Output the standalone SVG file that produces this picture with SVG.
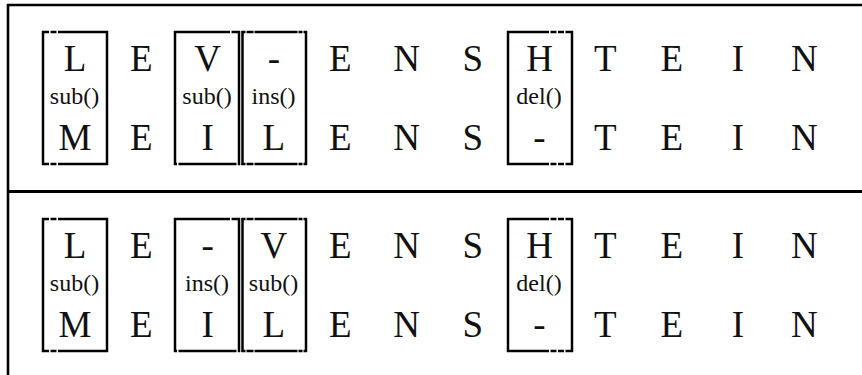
<svg xmlns="http://www.w3.org/2000/svg" width="862" height="375" viewBox="0 0 862 375">
<style>
.frame{stroke:#000;stroke-width:2.6;fill:none}
.side{stroke:#000;stroke-width:2.5;fill:none}
.big{font-family:"Liberation Serif","DejaVu Serif",serif;font-size:37px;text-anchor:middle;fill:#111}
.lab{font-family:"Liberation Serif","DejaVu Serif",serif;font-size:24px;text-anchor:middle;fill:#111}
</style>
<g id="frame">
<line class="frame" x1="7" y1="5" x2="862" y2="5"/>
<line class="frame" x1="8" y1="4" x2="8" y2="375"/>
<line class="frame" x1="8" y1="191.5" x2="862" y2="191.5" style="stroke-width:3"/>
</g>
<g id="panel-top">
<g id="top-box-L">
<line class="side" x1="43" y1="31" x2="43" y2="165"/><line class="side" x1="107" y1="31" x2="107" y2="165"/>
<line class="side" x1="42" y1="32" x2="108" y2="32" stroke-dasharray="7 1.5 6 1.5 60"/>
<line class="side" x1="42" y1="164" x2="108" y2="164" stroke-dasharray="7 1.5 6 1.5 60"/>
</g>
<g id="top-box-V">
<line class="side" x1="175" y1="31" x2="175" y2="165"/><line class="side" x1="239" y1="31" x2="239" y2="165"/>
<line class="side" x1="174" y1="32" x2="240" y2="32" stroke-dasharray="56 1.5 10"/>
<line class="side" x1="174" y1="164" x2="240" y2="164" stroke-dasharray="3 1.5 58 1.5 3"/>
</g>
<g id="top-box-ins">
<line class="side" x1="242.5" y1="31" x2="242.5" y2="165"/><line class="side" x1="306" y1="31" x2="306" y2="165"/>
<line class="side" x1="241.5" y1="32" x2="307" y2="32" stroke-dasharray="4 1 7 1 43 1 4 1 4"/>
<line class="side" x1="241.5" y1="164" x2="307" y2="164" stroke-dasharray="4 1 7 1 43 1 4 1 4"/>
</g>
<g id="top-box-H">
<line class="side" x1="508" y1="31" x2="508" y2="165"/><line class="side" x1="572" y1="31" x2="572" y2="165"/>
<line class="side" x1="507" y1="32" x2="573" y2="32" stroke-dasharray="42 1.5 6 1.5 6 1.5 8"/>
<line class="side" x1="507" y1="164" x2="573" y2="164" stroke-dasharray="42 1.5 6 1.5 6 1.5 8"/>
</g>
<g id="top-row1">
<text class="big" x="75" y="71">L</text><text class="big" x="141.3" y="71">E</text><text class="big" x="207.6" y="71">V</text><text class="big" x="273.9" y="71">-</text><text class="big" x="340.2" y="71">E</text><text class="big" x="406.5" y="71">N</text><text class="big" x="472.8" y="71">S</text><text class="big" x="539.5" y="71">H</text><text class="big" x="605.4" y="71">T</text><text class="big" x="671.7" y="71">E</text><text class="big" x="738" y="71">I</text><text class="big" x="804.3" y="71">N</text>
</g>
<g id="top-labels">
<text class="lab" x="74.5" y="104">sub()</text>
<text class="lab" x="207" y="104">sub()</text>
<text class="lab" x="273.5" y="104">ins()</text>
<text class="lab" x="539" y="104">del()</text>
</g>
<g id="top-row2">
<text class="big" x="75" y="150">M</text><text class="big" x="141.3" y="150">E</text><text class="big" x="207.6" y="150">I</text><text class="big" x="273.9" y="150">L</text><text class="big" x="340.2" y="150">E</text><text class="big" x="406.5" y="150">N</text><text class="big" x="472.8" y="150">S</text><text class="big" x="539.5" y="150">-</text><text class="big" x="605.4" y="150">T</text><text class="big" x="671.7" y="150">E</text><text class="big" x="738" y="150">I</text><text class="big" x="804.3" y="150">N</text>
</g>
</g>
<g id="panel-bottom" transform="translate(0,187)">
<g id="bot-box-L">
<line class="side" x1="43" y1="31" x2="43" y2="165"/><line class="side" x1="107" y1="31" x2="107" y2="165"/>
<line class="side" x1="42" y1="32" x2="108" y2="32" stroke-dasharray="7 1.5 6 1.5 60"/>
<line class="side" x1="42" y1="164" x2="108" y2="164" stroke-dasharray="7 1.5 6 1.5 60"/>
</g>
<g id="bot-box-ins">
<line class="side" x1="175" y1="31" x2="175" y2="165"/><line class="side" x1="239" y1="31" x2="239" y2="165"/>
<line class="side" x1="174" y1="32" x2="240" y2="32" stroke-dasharray="56 1.5 10"/>
<line class="side" x1="174" y1="164" x2="240" y2="164" stroke-dasharray="3 1.5 58 1.5 3"/>
</g>
<g id="bot-box-V">
<line class="side" x1="242.5" y1="31" x2="242.5" y2="165"/><line class="side" x1="306" y1="31" x2="306" y2="165"/>
<line class="side" x1="241.5" y1="32" x2="307" y2="32" stroke-dasharray="4 1 7 1 43 1 4 1 4"/>
<line class="side" x1="241.5" y1="164" x2="307" y2="164" stroke-dasharray="4 1 7 1 43 1 4 1 4"/>
</g>
<g id="bot-box-H">
<line class="side" x1="508" y1="31" x2="508" y2="165"/><line class="side" x1="572" y1="31" x2="572" y2="165"/>
<line class="side" x1="507" y1="32" x2="573" y2="32" stroke-dasharray="42 1.5 6 1.5 6 1.5 8"/>
<line class="side" x1="507" y1="164" x2="573" y2="164" stroke-dasharray="42 1.5 6 1.5 6 1.5 8"/>
</g>
<g id="bot-row1">
<text class="big" x="75" y="71">L</text><text class="big" x="141.3" y="71">E</text><text class="big" x="207.6" y="71">-</text><text class="big" x="273.9" y="71">V</text><text class="big" x="340.2" y="71">E</text><text class="big" x="406.5" y="71">N</text><text class="big" x="472.8" y="71">S</text><text class="big" x="539.5" y="71">H</text><text class="big" x="605.4" y="71">T</text><text class="big" x="671.7" y="71">E</text><text class="big" x="738" y="71">I</text><text class="big" x="804.3" y="71">N</text>
</g>
<g id="bot-labels">
<text class="lab" x="74.5" y="104">sub()</text>
<text class="lab" x="207" y="104">ins()</text>
<text class="lab" x="273.5" y="104">sub()</text>
<text class="lab" x="539" y="104">del()</text>
</g>
<g id="bot-row2">
<text class="big" x="75" y="150">M</text><text class="big" x="141.3" y="150">E</text><text class="big" x="207.6" y="150">I</text><text class="big" x="273.9" y="150">L</text><text class="big" x="340.2" y="150">E</text><text class="big" x="406.5" y="150">N</text><text class="big" x="472.8" y="150">S</text><text class="big" x="539.5" y="150">-</text><text class="big" x="605.4" y="150">T</text><text class="big" x="671.7" y="150">E</text><text class="big" x="738" y="150">I</text><text class="big" x="804.3" y="150">N</text>
</g>
</g>
</svg>
